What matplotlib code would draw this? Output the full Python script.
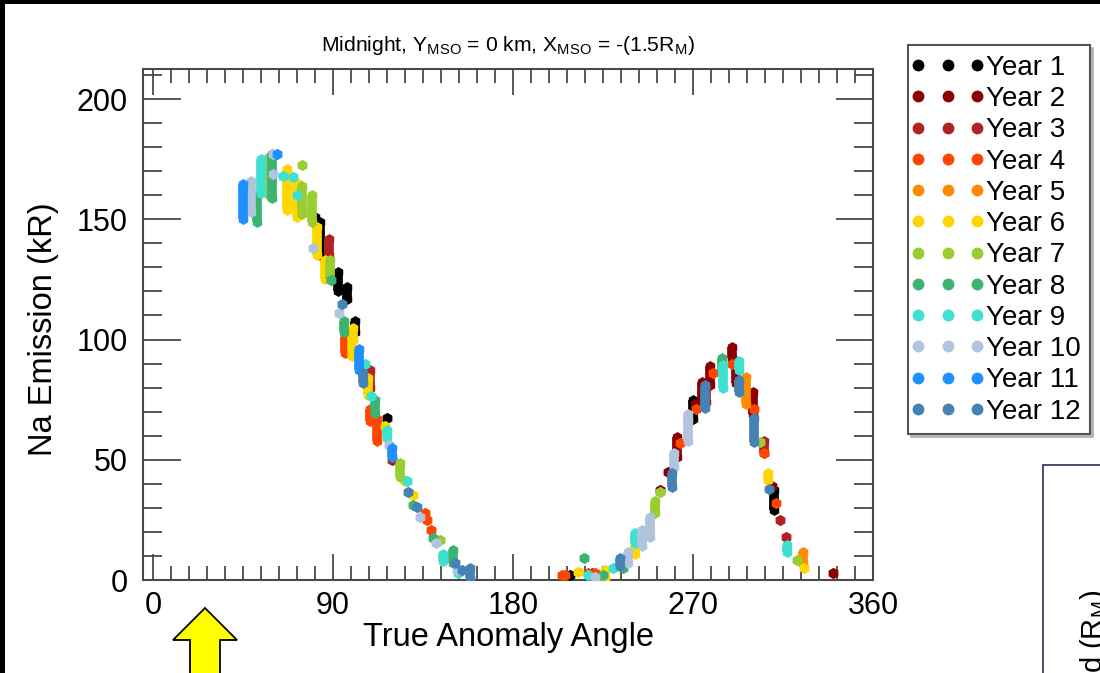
import matplotlib
matplotlib.use('Agg')
import matplotlib.pyplot as plt
from matplotlib.lines import Line2D
from matplotlib.patches import Rectangle, Polygon
from matplotlib.legend_handler import HandlerLine2D
from matplotlib.ticker import MultipleLocator
import numpy as np

plt.rcParams['font.family'] = ['Liberation Sans', 'DejaVu Sans']
plt.rcParams['mathtext.default'] = 'regular'

# (true anomaly angle, lowest emission, highest emission) in kR
year1 = [(81, 149, 151), (83.5, 135, 149), (92.5, 120, 128), (97, 117, 122),
         (101, 103, 107.5), (117, 67.5, 67.5), (208.5, 2, 2), (270, 67, 75),
         (310.5, 29, 37.5)]
year2 = [(253.5, 37.5, 37.5), (257.5, 45, 45), (262, 51, 59.5), (271, 73, 73),
         (274.5, 75, 82.5), (278.5, 81, 89), (289.5, 92.5, 96.7), (291.5, 82, 90),
         (300, 69, 78), (309.5, 39, 39), (340, 3, 3), (222, 2, 2)]
year3 = [(88, 135, 142), (108.5, 80, 87.5), (119.5, 50, 50), (219.5, 3, 3),
         (276.5, 74, 80), (305.5, 53, 58), (313.5, 25, 25), (316.5, 18, 18)]
year4 = [(96, 94.5, 101), (108.5, 66, 71), (112, 58, 67), (136, 28, 28),
         (137, 25, 25), (139, 21, 21), (204.5, 2, 2), (206, 2, 2), (217.5, 3, 3),
         (221, 3, 3), (263.5, 57, 57), (271.5, 71, 71), (280, 86, 86),
         (289.5, 90, 90), (300.5, 71, 71), (305.5, 53, 53), (311.5, 32, 32)]
year5 = [(267.5, 66.7, 66.7), (296.5, 73, 84.6), (325, 7, 11.7)]
year6 = [(67, 154, 171), (72, 151, 165), (82, 135, 147), (86, 125, 133),
         (99.5, 93, 101), (100, 100, 105), (107.5, 77, 84), (116, 64, 64),
         (126, 41, 41), (130, 35.4, 35.4), (212.5, 3.3, 3.3), (226, 1, 4),
         (241, 11, 14.6), (307.5, 41.7, 44.6), (325.5, 5, 5)]
year7 = [(58, 160, 176), (74.5, 172.5, 172.5), (74.5, 152, 164), (79.5, 149, 160),
         (88.5, 125, 133), (123.5, 43, 48.7), (143.5, 16.7, 16.7), (251, 28, 33),
         (253.5, 36.5, 36.5), (303.5, 57.5, 57.5), (322, 8.3, 8.3)]
year8 = [(52, 149, 160), (59.5, 159, 177), (89, 124.6, 124.6), (95.5, 103, 107.5),
         (111, 69.6, 75), (130, 31, 31), (140, 17.5, 17.5), (150, 7, 12.5),
         (215.5, 9, 9), (225, 2, 2), (235, 5, 5), (284.5, 86, 92.5)]
year9 = [(54, 161, 175), (65, 168, 168), (70, 167.5, 167.5), (72, 160, 160),
         (106, 90, 90), (109, 76.7, 76.7), (117, 59, 62.5), (127, 41, 41),
         (145, 8, 11), (152.5, 3, 3), (217.5, 2, 2), (230, 5, 5), (241, 15.4, 19.6),
         (285, 80, 89.6), (293, 87.5, 91), (317, 11.7, 14.6)]
year10 = [(49, 153, 166), (60, 169, 169), (60, 177, 177), (80, 138, 138),
          (93, 111, 111), (118, 56, 56), (133.5, 26, 26), (141.5, 15.5, 15.5),
          (152, 4, 4), (221, 1.3, 1.3), (237.5, 7, 11.7), (244.5, 14, 21),
          (248.5, 18, 26), (260.5, 47, 53), (267.5, 58, 69)]
year11 = [(45, 150, 164.6), (62, 177, 177), (103, 87.5, 96), (119.5, 51, 55)]
year12 = [(94.5, 114.6, 114.6), (105, 82, 86), (127.5, 36.7, 36.7),
          (132, 30.4, 30.4), (151, 7, 7), (154.5, 4, 4), (158.5, 1, 5),
          (233.5, 6, 9), (259.5, 38.7, 44.6), (276, 71.7, 81), (293, 78, 83),
          (300.5, 57.5, 67.5), (308, 38, 38)]

years = [year1, year2, year3, year4, year5, year6,
         year7, year8, year9, year10, year11, year12]
labels = ['Year %d' % (i + 1) for i in range(12)]
colors = ['black', '#8B0000', '#B22222', '#FF4500', '#FF8C00', '#FFD700',
          '#9ACD32', '#3CB371', '#40E0D0', '#B0C4DE', '#1E90FF', '#4682B4']

W, H = 1100, 673
fig = plt.figure(figsize=(W / 100, H / 100), dpi=100, facecolor='black')
# white slide area inside the black border
fig.patches.append(Rectangle((5 / W, 0), 1, 1 - 4 / H, transform=fig.transFigure,
                             facecolor='white', edgecolor='none', zorder=-5))

ax = fig.add_axes([143 / W, 1 - 580 / H, 730 / W, 511 / H])
axc = '#4a4a4a'

for data, col in zip(years, colors):
    taa, lo, hi = np.array(data, dtype=float).T
    ax.vlines(taa, lo, hi, colors=col, linewidth=7.0, zorder=3)
    ax.scatter(taa, lo, s=62, marker='h', color=col, linewidths=0, zorder=3)
    ax.scatter(taa, hi, s=62, marker='h', color=col, linewidths=0, zorder=3)

ax.set_xlim(-5, 360)
ax.set_ylim(0, 212.5)
ax.xaxis.set_major_locator(MultipleLocator(90))
ax.xaxis.set_minor_locator(MultipleLocator(9))
ax.yaxis.set_major_locator(MultipleLocator(50))
ax.yaxis.set_minor_locator(MultipleLocator(10))
ax.tick_params(axis='both', which='both', direction='in', top=True, right=True,
               color=axc, width=1.3, labelsize=22)
ax.tick_params(axis='x', which='major', length=19, pad=8)
ax.tick_params(axis='x', which='minor', length=10)
ax.tick_params(axis='y', which='major', length=27, pad=11)
ax.tick_params(axis='y', which='minor', length=14)
for sp in ax.spines.values():
    sp.set_color(axc)
    sp.set_linewidth(1.5)

ax.set_xlabel('True Anomaly Angle', fontsize=23.5)
ax.xaxis.set_label_coords(0.5, -0.083)
ax.set_ylabel('Na Emission (kR)', fontsize=23.5)
ax.yaxis.set_label_coords(-0.115, 0.49)
ax.set_title('Midnight, Y$_{MSO}$ = 0 km, X$_{MSO}$ = -(1.5R$_M$)',
             fontsize=15.2, pad=13)

handles = [Line2D([], [], marker='o', linestyle='None', color=c, markersize=7.5)
           for c in colors]
leg = ax.legend(handles, labels, loc='upper left',
                bbox_to_anchor=(908 / W, 1 - 45 / H), bbox_transform=fig.transFigure,
                fontsize=20, numpoints=3, handlelength=2.15, handletextpad=0.3,
                labelspacing=0.19, borderpad=0.35, borderaxespad=0,
                fancybox=False, framealpha=1, edgecolor='#555555',
                shadow={'color': '0.6', 'alpha': 0.6},
                handler_map={Line2D: HandlerLine2D(marker_pad=0.0, numpoints=3)})
leg.get_frame().set_linewidth(1.5)

# yellow arrow under the axis
pts = [(205, 608), (237, 640), (220, 640), (220, 690), (190, 690), (190, 640), (173, 640)]
fig.patches.append(Polygon([(x / W, 1 - y / H) for x, y in pts], closed=True,
                           transform=fig.transFigure, facecolor='#FFFF00',
                           edgecolor='black', linewidth=1.3))

# edge of the next panel, cut off at the corner
fig.patches.append(Rectangle((1043 / W, -0.1), 0.2, 0.1 + (H - 465) / H,
                             transform=fig.transFigure, facecolor='white',
                             edgecolor='#3c3c70', linewidth=1.3))
fig.text(1094 / W, 1 - 590 / H, 'd (R$_M$)', rotation=90, ha='center', va='top',
         fontsize=21)

fig.savefig('out.png', dpi=100, facecolor=fig.get_facecolor())
